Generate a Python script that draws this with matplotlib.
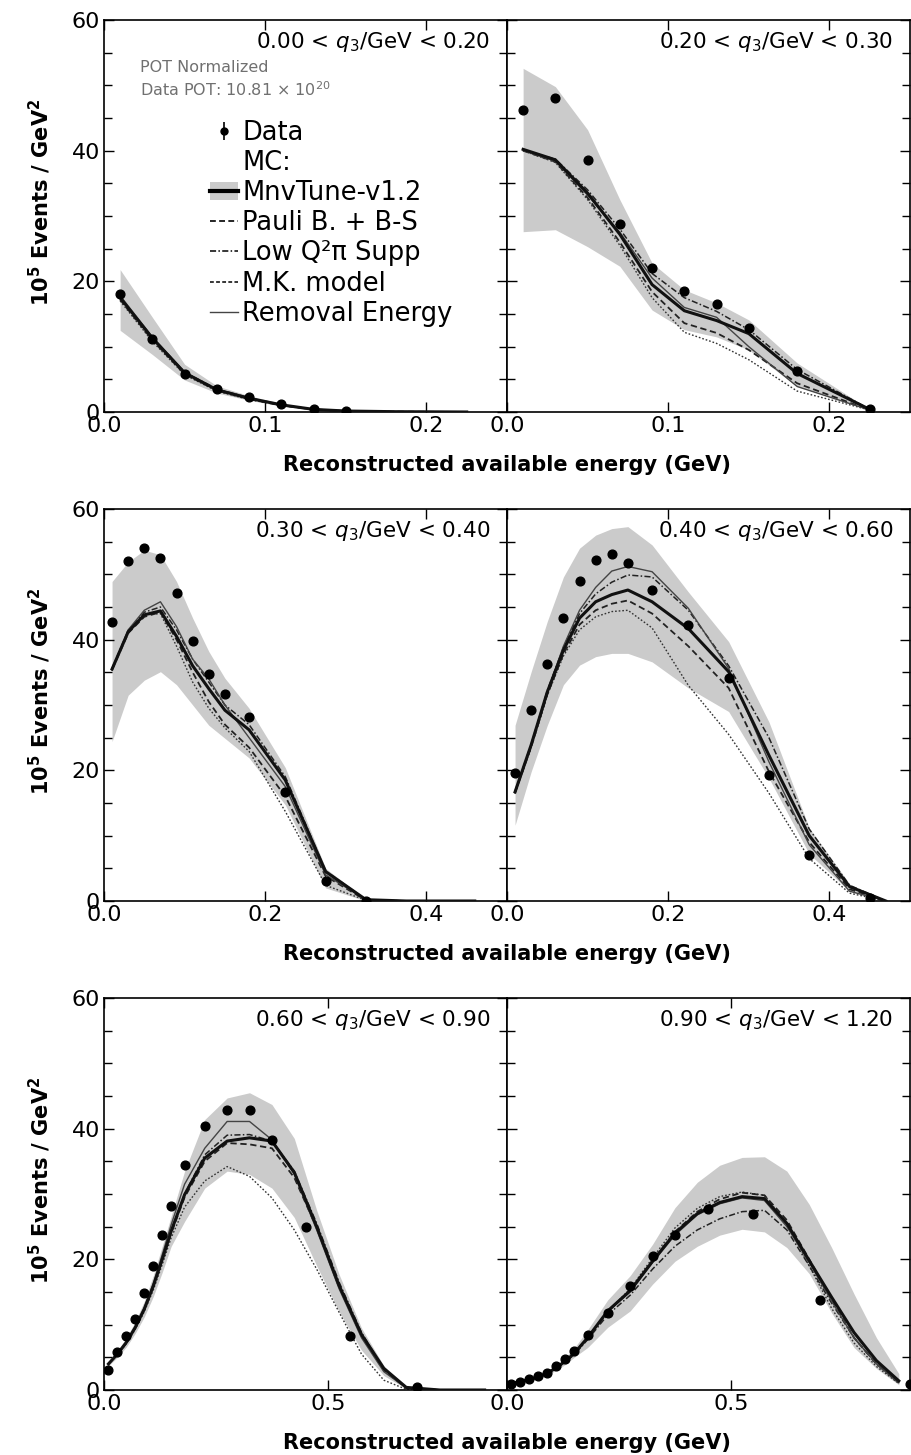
import matplotlib
matplotlib.use("Agg")
import matplotlib.pyplot as plt
from matplotlib.ticker import MultipleLocator, FormatStrFormatter
from matplotlib.lines import Line2D
from matplotlib.patches import Patch
from matplotlib.legend_handler import HandlerTuple

plt.rcParams['font.family'] = ['DejaVu Sans']

# q3 slices
q3_labels = ["0.00 < $q_3$/GeV < 0.20", "0.20 < $q_3$/GeV < 0.30",
             "0.30 < $q_3$/GeV < 0.40", "0.40 < $q_3$/GeV < 0.60",
             "0.60 < $q_3$/GeV < 0.90", "0.90 < $q_3$/GeV < 1.20"]

# ---- slice 1: 0.00 < q3 < 0.20
data_x1 = [0.01, 0.03, 0.05, 0.07, 0.09, 0.11, 0.13, 0.15]
data_y1 = [18.0, 11.2, 5.8, 3.5, 2.3, 1.2, 0.4, 0.1]
mc_x1 = [0.01, 0.03, 0.05, 0.07, 0.09, 0.11, 0.13, 0.15, 0.18, 0.225]
mnv1 = [17.5, 11.3, 6.0, 3.4, 2.1, 1.1, 0.4, 0.15, 0.05, 0.0]
band_hi1 = [21.8, 14.5, 7.3, 4.0, 2.5, 1.3, 0.5, 0.2, 0.06, 0.0]
band_lo1 = [12.5, 8.8, 4.9, 2.9, 1.8, 0.9, 0.3, 0.1, 0.04, 0.0]
pauli1 = [17.2, 11.0, 5.8, 3.3, 2.0, 1.0, 0.4, 0.14, 0.05, 0.0]
lowq1 = [17.6, 11.4, 6.1, 3.5, 2.2, 1.1, 0.4, 0.15, 0.05, 0.0]
mk1 = [17.0, 10.8, 5.7, 3.2, 1.9, 1.0, 0.35, 0.12, 0.04, 0.0]
rem1 = [17.8, 11.5, 6.1, 3.4, 2.1, 1.1, 0.4, 0.15, 0.05, 0.0]

# ---- slice 2: 0.20 < q3 < 0.30
data_x2 = [0.01, 0.03, 0.05, 0.07, 0.09, 0.11, 0.13, 0.15, 0.18, 0.225]
data_y2 = [46.2, 48.1, 38.5, 28.7, 22.1, 18.5, 16.5, 12.9, 6.2, 0.4]
mc_x2 = [0.01, 0.03, 0.05, 0.07, 0.09, 0.11, 0.13, 0.15, 0.18, 0.225]
mnv2 = [40.2, 38.6, 33.5, 27.2, 19.5, 15.5, 14.0, 12.0, 5.9, 0.4]
band_hi2 = [52.6, 49.8, 43.2, 32.5, 22.8, 18.7, 16.7, 14.1, 7.5, 0.4]
band_lo2 = [27.6, 27.9, 25.3, 22.3, 15.6, 12.6, 11.5, 9.5, 3.9, 0.3]
pauli2 = [40.0, 38.3, 32.8, 26.0, 18.4, 13.6, 12.1, 9.5, 4.4, 0.3]
lowq2 = [40.1, 38.7, 34.0, 28.0, 21.2, 17.5, 15.4, 12.6, 6.5, 0.4]
mk2 = [40.0, 38.2, 32.5, 25.5, 17.5, 12.2, 10.5, 8.0, 3.2, 0.3]
rem2 = [40.0, 38.4, 33.2, 27.5, 20.5, 16.0, 14.5, 10.0, 3.9, 0.3]

# ---- slice 3: 0.30 < q3 < 0.40
data_x3 = [0.01, 0.03, 0.05, 0.07, 0.09, 0.11, 0.13, 0.15, 0.18, 0.225, 0.275, 0.325]
data_y3 = [42.7, 52.0, 54.0, 52.5, 47.2, 39.8, 34.7, 31.7, 28.1, 16.7, 3.1, 0.0]
mc_x3 = [0.01, 0.03, 0.05, 0.07, 0.09, 0.11, 0.13, 0.15, 0.18, 0.225, 0.275, 0.325, 0.375, 0.46]
mnv3 = [35.5, 41.2, 43.8, 44.4, 40.5, 36.0, 32.5, 29.2, 26.2, 18.5, 4.5, 0.2, 0.0, 0.0]
band_hi3 = [48.9, 51.9, 53.7, 53.0, 48.9, 43.3, 38.2, 34.1, 29.5, 20.4, 5.0, 0.2, 0.0, 0.0]
band_lo3 = [24.4, 31.5, 33.8, 35.1, 33.1, 30.0, 26.9, 24.9, 21.9, 14.7, 2.0, 0.0, 0.0, 0.0]
pauli3 = [35.4, 41.0, 43.5, 44.2, 40.0, 35.0, 30.5, 27.0, 23.5, 16.0, 3.8, 0.1, 0.0, 0.0]
lowq3 = [35.6, 41.4, 44.2, 45.0, 41.5, 37.0, 33.5, 30.0, 27.0, 19.0, 4.6, 0.2, 0.0, 0.0]
mk3 = [35.5, 41.2, 43.8, 44.0, 39.0, 33.5, 29.5, 26.5, 22.9, 13.7, 2.4, 0.1, 0.0, 0.0]
rem3 = [35.3, 41.5, 44.5, 45.8, 42.0, 37.0, 34.0, 30.0, 25.0, 17.5, 4.0, 0.2, 0.0, 0.0]

# ---- slice 4: 0.40 < q3 < 0.60
data_x4 = [0.01, 0.03, 0.05, 0.07, 0.09, 0.11, 0.13, 0.15, 0.18, 0.225, 0.275, 0.325, 0.375, 0.45]
data_y4 = [19.6, 29.2, 36.2, 43.3, 49.0, 52.2, 53.1, 51.8, 47.6, 42.2, 34.1, 19.3, 7.1, 0.5]
mc_x4 = [0.01, 0.03, 0.05, 0.07, 0.09, 0.11, 0.13, 0.15, 0.18, 0.225, 0.275, 0.325, 0.375, 0.425, 0.47]
mnv4 = [16.7, 23.9, 32.0, 38.4, 43.3, 45.8, 46.9, 47.6, 45.8, 41.7, 35.1, 22.3, 10.0, 2.2, 0.0]
band_hi4 = [26.9, 35.1, 42.8, 49.6, 54.0, 56.0, 57.0, 57.3, 54.5, 47.3, 39.7, 27.4, 11.2, 2.6, 0.0]
band_lo4 = [11.6, 19.8, 26.9, 33.1, 36.1, 37.4, 37.9, 37.9, 36.6, 32.6, 29.0, 18.8, 7.2, 1.5, 0.0]
pauli4 = [16.6, 23.6, 31.6, 37.8, 42.3, 44.5, 45.5, 46.0, 44.0, 39.0, 32.6, 19.8, 9.0, 1.8, 0.0]
lowq4 = [16.8, 24.0, 32.2, 38.8, 44.0, 47.0, 48.8, 49.9, 49.6, 44.5, 36.0, 25.0, 11.0, 2.4, 0.0]
mk4 = [16.6, 23.5, 31.5, 37.5, 41.5, 43.5, 44.3, 44.5, 41.8, 33.0, 25.5, 16.5, 6.5, 1.2, 0.0]
rem4 = [16.5, 23.8, 32.0, 39.0, 44.5, 48.0, 50.5, 51.2, 50.4, 44.8, 35.6, 21.3, 8.6, 1.5, 0.0]

# ---- slice 5: 0.60 < q3 < 0.90
data_x5 = [0.01, 0.03, 0.05, 0.07, 0.09, 0.11, 0.13, 0.15, 0.18, 0.225, 0.275, 0.325,
           0.375, 0.45, 0.55, 0.7]
data_y5 = [3.05, 5.75, 8.3, 10.9, 14.8, 19.0, 23.7, 28.2, 34.4, 40.4, 42.8, 42.9,
           38.3, 24.9, 8.3, 0.4]
mc_x5 = [0.01, 0.03, 0.05, 0.07, 0.09, 0.11, 0.13, 0.15, 0.18, 0.225, 0.275, 0.325,
         0.375, 0.425, 0.475, 0.525, 0.575, 0.625, 0.675, 0.75, 0.85]
mnv5 = [4.0, 5.5, 7.3, 9.6, 12.4, 15.9, 20.0, 24.3, 29.9, 35.5, 38.1, 38.6,
        38.1, 33.3, 25.0, 16.0, 8.5, 3.3, 0.4, 0.0, 0.0]
band_hi5 = [4.3, 6.0, 8.0, 10.5, 13.6, 17.5, 22.0, 26.6, 33.5, 41.4, 44.7, 45.5,
            43.7, 38.5, 27.5, 17.7, 9.5, 3.7, 0.5, 0.0, 0.0]
band_lo5 = [3.7, 5.0, 6.6, 8.7, 11.2, 14.3, 18.0, 22.0, 25.8, 30.9, 33.5, 33.0,
            30.9, 26.4, 19.0, 12.0, 6.1, 2.2, 0.2, 0.0, 0.0]
pauli5 = [4.0, 5.5, 7.2, 9.5, 12.3, 15.8, 19.8, 24.0, 29.5, 35.0, 37.8, 37.6,
          37.0, 32.5, 24.8, 15.8, 8.3, 3.0, 0.3, 0.0, 0.0]
lowq5 = [4.0, 5.5, 7.3, 9.6, 12.4, 15.9, 20.0, 24.3, 30.0, 36.0, 39.0, 39.1,
         38.1, 33.5, 25.5, 16.5, 8.8, 3.2, 0.4, 0.0, 0.0]
mk5 = [4.0, 5.4, 7.1, 9.3, 12.0, 15.3, 19.2, 23.3, 28.0, 32.0, 34.2, 32.7,
       29.4, 24.5, 18.5, 11.9, 5.5, 1.5, 0.1, 0.0, 0.0]
rem5 = [4.0, 5.5, 7.3, 9.7, 12.6, 16.3, 20.7, 25.3, 31.5, 37.0, 41.1, 41.1,
        38.3, 33.0, 24.5, 15.5, 8.0, 2.8, 0.3, 0.0, 0.0]

# ---- slice 6: 0.90 < q3 < 1.20
data_x6 = [0.01, 0.03, 0.05, 0.07, 0.09, 0.11, 0.13, 0.15, 0.18, 0.225, 0.275, 0.325,
           0.375, 0.45, 0.55, 0.7, 0.9]
data_y6 = [0.9, 1.3, 1.7, 2.1, 2.6, 3.6, 4.7, 5.9, 8.4, 11.8, 15.9, 20.5,
           23.8, 27.7, 27.0, 13.8, 0.9]
mc_x6 = [0.01, 0.03, 0.05, 0.07, 0.09, 0.11, 0.13, 0.15, 0.18, 0.225, 0.275, 0.325,
         0.375, 0.425, 0.475, 0.525, 0.575, 0.625, 0.675, 0.725, 0.775, 0.825, 0.875]
mnv6 = [1.0, 1.3, 1.6, 2.0, 2.6, 3.4, 4.4, 5.6, 8.0, 12.1, 15.2, 19.7,
        24.0, 27.0, 28.7, 29.6, 29.3, 25.5, 19.8, 14.2, 8.8, 4.5, 1.4]
band_hi6 = [1.1, 1.4, 1.8, 2.2, 2.9, 3.8, 5.0, 6.4, 9.2, 13.8, 17.5, 22.3,
            27.9, 31.8, 34.4, 35.6, 35.7, 33.5, 28.4, 21.8, 14.7, 8.0, 2.5]
band_lo6 = [0.9, 1.2, 1.45, 1.8, 2.3, 3.0, 3.9, 5.0, 6.5, 9.6, 12.1, 16.2,
            19.7, 22.0, 23.7, 24.6, 24.2, 21.8, 17.8, 11.8, 6.5, 3.3, 0.8]
pauli6 = [1.0, 1.3, 1.6, 2.0, 2.6, 3.4, 4.4, 5.6, 8.0, 12.0, 15.3, 19.8,
          24.2, 27.3, 29.2, 30.2, 29.8, 26.0, 20.0, 13.8, 8.0, 4.0, 1.1]
lowq6 = [1.0, 1.3, 1.6, 2.0, 2.5, 3.3, 4.3, 5.4, 7.7, 11.5, 14.5, 18.5,
         22.0, 24.5, 26.2, 27.3, 27.5, 24.5, 19.0, 13.3, 8.0, 4.0, 1.1]
mk6 = [1.0, 1.3, 1.6, 2.0, 2.6, 3.4, 4.4, 5.6, 8.0, 12.0, 15.5, 20.2,
       24.8, 27.8, 29.6, 30.3, 29.8, 25.5, 19.0, 12.5, 7.2, 3.6, 1.0]
rem6 = [1.0, 1.3, 1.6, 2.0, 2.6, 3.4, 4.4, 5.6, 8.0, 12.0, 15.0, 19.5,
        23.7, 26.8, 28.5, 29.4, 29.0, 25.0, 19.5, 13.6, 8.0, 4.0, 1.1]

panels = [
    (data_x1, data_y1, mc_x1, mnv1, band_lo1, band_hi1, pauli1, lowq1, mk1, rem1),
    (data_x2, data_y2, mc_x2, mnv2, band_lo2, band_hi2, pauli2, lowq2, mk2, rem2),
    (data_x3, data_y3, mc_x3, mnv3, band_lo3, band_hi3, pauli3, lowq3, mk3, rem3),
    (data_x4, data_y4, mc_x4, mnv4, band_lo4, band_hi4, pauli4, lowq4, mk4, rem4),
    (data_x5, data_y5, mc_x5, mnv5, band_lo5, band_hi5, pauli5, lowq5, mk5, rem5),
    (data_x6, data_y6, mc_x6, mnv6, band_lo6, band_hi6, pauli6, lowq6, mk6, rem6),
]

x_max = [0.25, 0.5, 0.9]      # x range per row
x_step = [0.1, 0.2, 0.5]      # major tick spacing per row

W, H = 911, 1455
fig = plt.figure(figsize=(W / 100, H / 100), dpi=100)

col_left = [104, 507]
row_top = [20, 509, 998]
ax_w, ax_h = 403, 392

band_color = '#cbcbcb'
ls_pauli = (0, (3.5, 2.0))
ls_lowq = (0, (4.0, 1.5, 1.0, 1.5))
ls_mk = (0, (1.2, 1.4))

axes = []
for i, p in enumerate(panels):
    r, c = divmod(i, 2)
    dx, dy, mx, mnv, lo, hi, pauli, lowq, mk, rem = p
    ax = fig.add_axes([col_left[c] / W, 1 - (row_top[r] + ax_h) / H, ax_w / W, ax_h / H])
    axes.append(ax)

    ax.fill_between(mx, lo, hi, color=band_color, lw=0, zorder=1)
    ax.plot(mx, mk, color='#333333', lw=1.0, ls=ls_mk, zorder=2)
    ax.plot(mx, pauli, color='#222222', lw=1.3, ls=ls_pauli, zorder=2)
    ax.plot(mx, lowq, color='#222222', lw=1.1, ls=ls_lowq, zorder=2)
    ax.plot(mx, rem, color='#444444', lw=1.0, zorder=2)
    ax.plot(mx, mnv, color='#111111', lw=2.2, zorder=3)
    ax.plot(dx, dy, 'o', color='black', ms=6.3, zorder=4)

    ax.set_xlim(0, x_max[r])
    ax.set_ylim(0, 60)
    ax.xaxis.set_major_locator(MultipleLocator(x_step[r]))
    ax.xaxis.set_major_formatter(FormatStrFormatter('%.1f'))
    ax.yaxis.set_major_locator(MultipleLocator(20))
    ax.yaxis.set_minor_locator(MultipleLocator(5))
    ax.tick_params(which='both', direction='in', top=True, right=True,
                   labelsize=16, width=1.0, pad=3)
    ax.tick_params(which='major', length=7)
    ax.tick_params(which='minor', length=6)
    if c == 1:
        ax.tick_params(labelleft=False)
    for s in ax.spines.values():
        s.set_linewidth(1.2)

    ax.text(1 - 17 / ax_w, 1 - 28 / ax_h, q3_labels[i], transform=ax.transAxes,
            ha='right', va='baseline', fontsize=15.5)

# x and y axis titles per row
for r in range(3):
    ytop = row_top[r]
    fig.text(507 / W, 1 - (ytop + 445) / H, "Reconstructed available energy (GeV)",
             ha='center', va='center', fontsize=15, fontweight='bold')
    fig.text(40 / W, 1 - (ytop + 182) / H, r"10$^{\mathbf{5}}$ Events / GeV$^{\mathbf{2}}$",
             ha='center', va='center', rotation=90, fontsize=15, fontweight='bold')

ax0 = axes[0]
ax0.text((140 - 104) / ax_w, 1 - 52 / ax_h, "POT Normalized", transform=ax0.transAxes,
         fontsize=11.5, color='#707070', va='baseline')
ax0.text((140 - 104) / ax_w, 1 - 76 / ax_h, r"Data POT: 10.81 $\times$ 10$^{20}$",
         transform=ax0.transAxes, fontsize=11.5, color='#707070', va='baseline')

h_data = (Line2D([], [], marker='|', ms=13, mew=1.2, color='k', ls='none'),
          Line2D([], [], marker='o', ms=5, color='k', ls='none'))
h_blank = Line2D([], [], ls='none')
h_mnv = (Patch(facecolor=band_color, edgecolor='none'), Line2D([], [], color='k', lw=3.0))
h_pauli = Line2D([], [], color='k', lw=1.2, ls=ls_pauli)
h_lowq = Line2D([], [], color='k', lw=1.1, ls=ls_lowq)
h_mk = Line2D([], [], color='k', lw=1.1, ls=(0, (2.5, 1.5)))
h_rem = Line2D([], [], color='#444444', lw=1.0)
ax0.legend([h_data, h_blank, h_mnv, h_pauli, h_lowq, h_mk, h_rem],
           ["Data", "MC:", "MnvTune-v1.2", "Pauli B. + B-S", "Low Q²π Supp",
            "M.K. model", "Removal Energy"],
           handler_map={tuple: HandlerTuple(ndivide=1, pad=0)},
           loc='upper left', bbox_to_anchor=((210 - 104) / ax_w, 1 - (120 - 20) / ax_h),
           frameon=False, fontsize=18.5, handlelength=1.1, handletextpad=0.15,
           labelspacing=0.16, borderpad=0, borderaxespad=0)

fig.savefig("out.png", dpi=100)
